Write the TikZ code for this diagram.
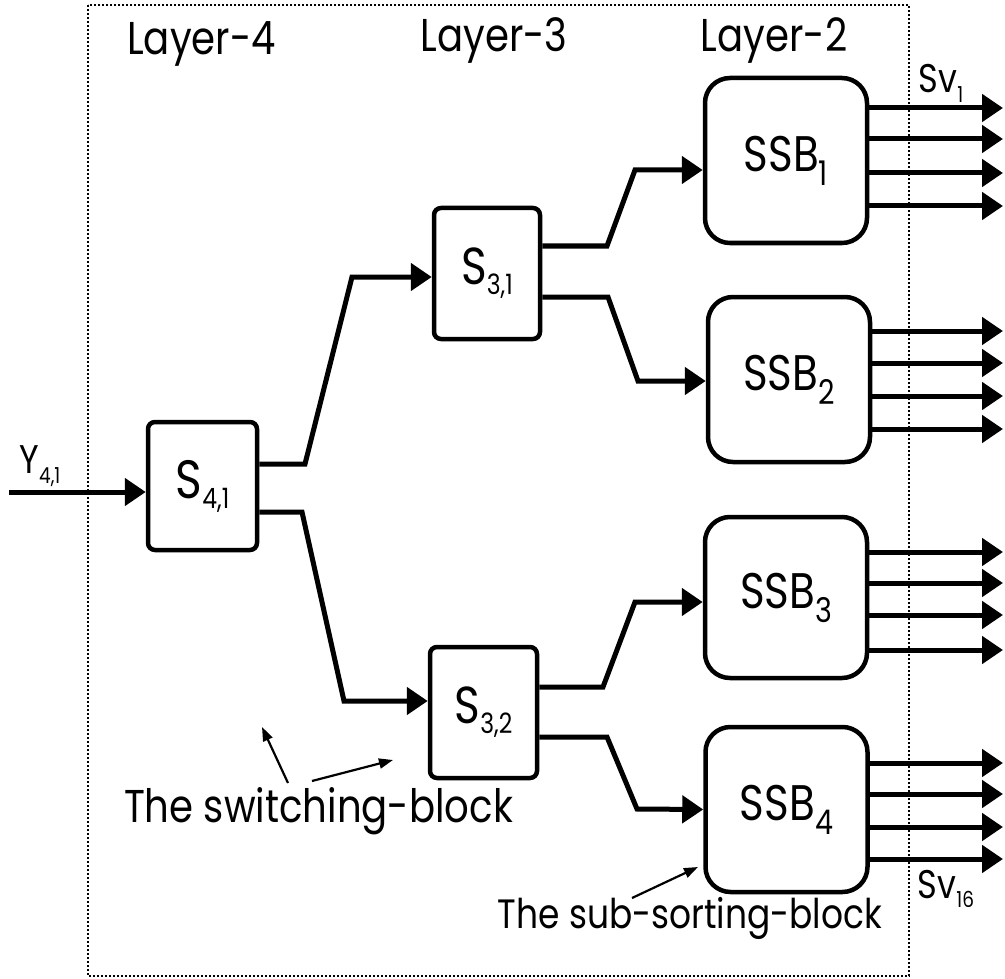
\documentclass[tikz,border=0pt]{standalone}
\usepackage{fontspec}
\setmainfont{Poppins}[FakeStretch=0.84]
\usetikzlibrary{arrows.meta,calc}
\newcommand\fsz[1]{\fontsize{#1}{#1}\selectfont}
\newcommand\sbs[3]{\raisebox{-#2pt}{\fsz{#1}#3}}
\tikzset{
  sbox/.style={draw, line width=4.5pt, rounded corners=7pt, inner sep=0pt, fill=white},
  ssbox/.style={draw, line width=4.5pt, rounded corners=25pt, inner sep=0pt, fill=white, minimum width=162pt, minimum height=165pt},
  conn/.style={line width=5pt, -{Triangle[length=21pt,width=27pt]}},
  ann/.style={line width=2.2pt, -{Triangle[length=14pt,width=10pt]}},
  frame/.style={line width=2.5pt, dash pattern=on 2pt off 2pt},
  lbl/.style={inner sep=0pt, anchor=base}
}
\begin{document}
\begin{tikzpicture}[x=1pt,y=-1pt]
\useasboundingbox (0,0) rectangle (1005,979);
\draw[frame] (88,5) rectangle (909,976);

% layer labels
\node[lbl] (l4) at (201.5,55) {\fsz{46}Layer-4};
\node[lbl] (l3) at (494,52) {\fsz{46}Layer-3};
\node[lbl] (l2) at (774,52) {\fsz{46}Layer-2};

% switches
\node[sbox, minimum width=109pt, minimum height=128pt] (S41) at (202.5,486) {\fsz{54}S\sbs{28}{10}{4,1}};
\node[sbox, minimum width=106pt, minimum height=131pt] (S31) at (487,273.5) {\fsz{52}S\sbs{28}{10}{3,1}};
\node[sbox, minimum width=107pt, minimum height=131pt] (S32) at (483.5,712.5) {\fsz{52}S\sbs{28}{10}{3,2}};

% sub-sorting blocks
\node[ssbox] (SSB1) at (786,160.5) {\fsz{50}SSB\sbs{34}{14}{1}};
\node[ssbox] (SSB2) at (789,379.5) {\fsz{50}SSB\sbs{34}{14}{2}};
\node[ssbox, minimum height=161pt] (SSB3) at (786,597.5) {\fsz{50}SSB\sbs{34}{14}{3}};
\node[ssbox] (SSB4) at (786.5,809.5) {\fsz{50}SSB\sbs{34}{14}{4}};

% input
\coordinate (in) at (9,492);
\node[lbl] (Y) at (40,473) {\fsz{40}Y\sbs{22}{10}{4,1}};
\draw[conn] (in) -- ($(S41.west)+(0,6)$);

% layer 4 -> layer 3
\draw[conn] ($(S41.east)+(0,-22)$) -- (305,464) -- (352,277) -- ($(S31.west)+(0,3.5)$);
\draw[conn] ($(S41.east)+(0,26)$) -- (302,512) -- (344,701) -- ($(S32.west)+(0,-11.5)$);

% layer 3 -> layer 2
\draw[conn] ($(S31.east)+(0,-27.5)$) -- (607,246) -- (635,170) -- ($(SSB1.west)+(0,9.5)$);
\draw[conn] ($(S31.east)+(0,23.5)$) -- (608,297) -- (638,381) -- ($(SSB2.west)+(0,1.5)$);
\draw[conn] ($(S32.east)+(0,-25.5)$) -- (603,687) -- (635,602) -- ($(SSB3.west)+(0,4.5)$);
\draw[conn] ($(S32.east)+(0,24.5)$) -- (607,737) -- (637,809) -- (SSB4.west);

% outputs
\coordinate (outR) at (1003,0);
\foreach \n/\a/\b/\c/\e in {SSB1/-52.5/-21.5/12.5/45.5, SSB2/-48.5/-16.5/16.5/49.5, SSB3/-45.5/-14.5/17.5/52.5, SSB4/-46.5/-15.5/17.5/49.5}{
  \foreach \d in {\a,\b,\c,\e}{
    \coordinate (tmp) at ($(\n.east)+(0,\d)$);
    \draw[conn] (tmp) -- (tmp -| outR);
  }
}
\node[lbl] (sv1) at (941,93) {\fsz{40}Sv\sbs{22}{10}{1}};
\node[lbl] (sv16) at (946,898) {\fsz{40}Sv\sbs{22}{9}{16}};

% annotations
\node[lbl] (swtxt) at (318.5,822) {\fsz{46}The switching-block};
\coordinate (sw1s) at (288,783);
\coordinate (sw1e) at (262,727);
\coordinate (sw2s) at (312,781);
\coordinate (sw2e) at (393,760);
\draw[ann] (sw1s) -- (sw1e);
\draw[ann] (sw2s) -- (sw2e);

\node[lbl] (sstxt) at (690,928) {\fsz{41}The sub-sorting-block};
\coordinate (ss1s) at (632,898);
\coordinate (ss1e) at (698,867);
\draw[ann] (ss1s) -- (ss1e);
\end{tikzpicture}
\end{document}
